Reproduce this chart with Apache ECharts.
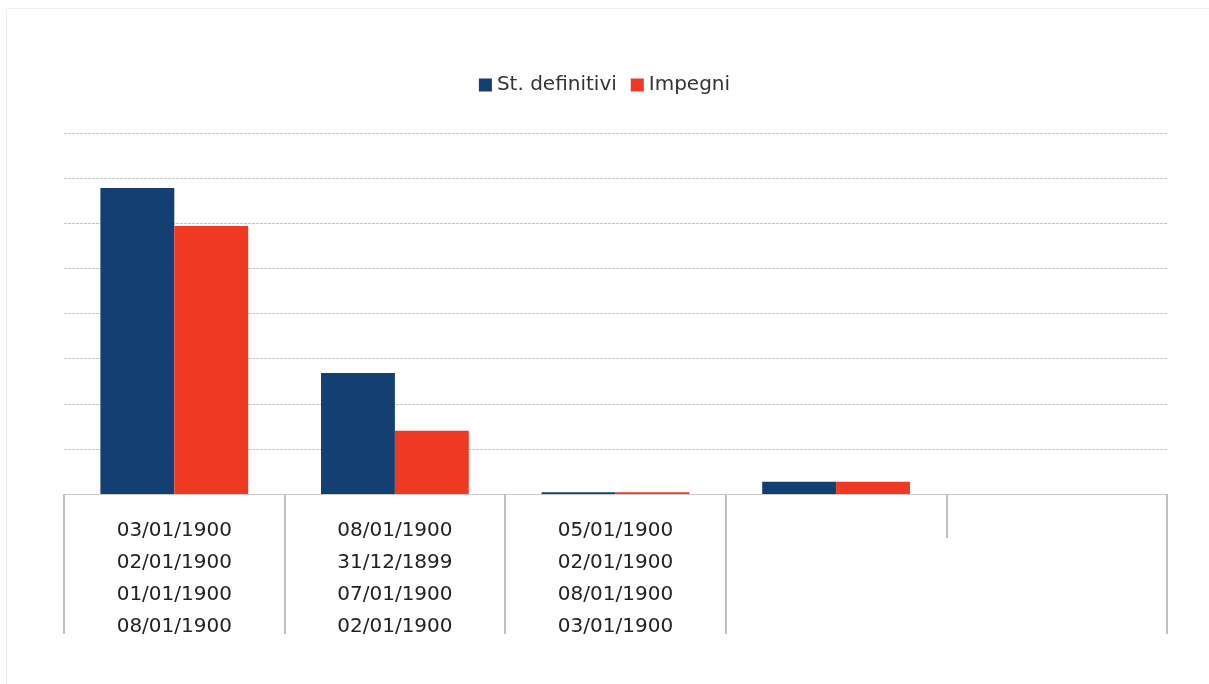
<!DOCTYPE html>
<html>
<head>
<meta charset="utf-8">
<script src="https://cdn.jsdelivr.net/npm/echarts@6/dist/echarts.min.js"></script>
<style>
  html, body { margin: 0; padding: 0; background: #fff; overflow: hidden; }
  #frame {
    position: absolute; left: 6px; top: 8px; width: 1210px; height: 690px;
    border-top: 1px solid #efefef; border-left: 1px solid #efefef;
  }
  #chart { position: absolute; left: 0; top: 0; width: 1209px; height: 684px; }
</style>
</head>
<body>
<div id="frame"></div>
<div id="chart"></div>
<script>
// categorie (etichette multilinea) e valori
const categories = [
  '03/01/1900\n02/01/1900\n01/01/1900\n08/01/1900',
  '08/01/1900\n31/12/1899\n07/01/1900\n02/01/1900',
  '05/01/1900\n02/01/1900\n08/01/1900\n03/01/1900',
  '',
  ''
]
const stDefinitivi = [6.78, 2.68, 0.04, 0.27, 0]
const impegni = [5.94, 1.40, 0.04, 0.27, 0]
const seriesNames = ['St. definitivi', 'Impegni']

const font = 'DejaVu Sans'
const gridColor = '#c6c6c6'
const tickColor = '#c0c0c0'

const chart = echarts.init(document.getElementById('chart'))

const option = {
  animation: false,
  legend: {
    data: seriesNames,
    top: 70,
    left: 'center',
    icon: 'rect',
    itemWidth: 13,
    itemHeight: 13,
    itemGap: 14,
    textStyle: { fontFamily: font, fontSize: 20, color: '#333' }
  },
  grid: { left: 64, right: 42, top: 133, bottom: 190 },
  xAxis: [
    {
      type: 'category',
      data: categories,
      position: 'bottom',
      axisLine: { show: true, lineStyle: { color: gridColor, type: [3, 1], width: 1 } },
      axisTick: {
        show: true,
        length: 140,
        interval: (i) => i !== 4,
        lineStyle: { color: tickColor, width: 2 }
      },
      axisLabel: {
        interval: 0,
        margin: 21,
        fontFamily: font,
        fontSize: 20,
        lineHeight: 32,
        color: '#222'
      },
      splitLine: { show: false }
    },
    {
      // solo per il separatore corto prima dell'ultima categoria
      type: 'category',
      data: categories,
      position: 'bottom',
      axisLine: { show: false },
      axisTick: {
        show: true,
        length: 44,
        interval: (i) => i === 0 || i === 4,
        lineStyle: { color: tickColor, width: 2 }
      },
      axisLabel: { show: false },
      splitLine: { show: false }
    }
  ],
  yAxis: {
    type: 'value',
    min: 0,
    max: 8,
    interval: 1,
    axisLine: { show: false },
    axisTick: { show: false },
    axisLabel: { show: false },
    splitLine: { lineStyle: { color: gridColor, type: [3, 1], width: 1 } }
  },
  series: [
    {
      name: seriesNames[0],
      type: 'bar',
      xAxisIndex: 0,
      data: stDefinitivi,
      barGap: '0%',
      barCategoryGap: '33%',
      itemStyle: { color: '#133f72' }
    },
    {
      name: seriesNames[1],
      type: 'bar',
      xAxisIndex: 0,
      data: impegni,
      barGap: '0%',
      barCategoryGap: '33%',
      itemStyle: { color: '#ef3a23' }
    }
  ]
}

chart.setOption(option)
</script>
</body>
</html>
